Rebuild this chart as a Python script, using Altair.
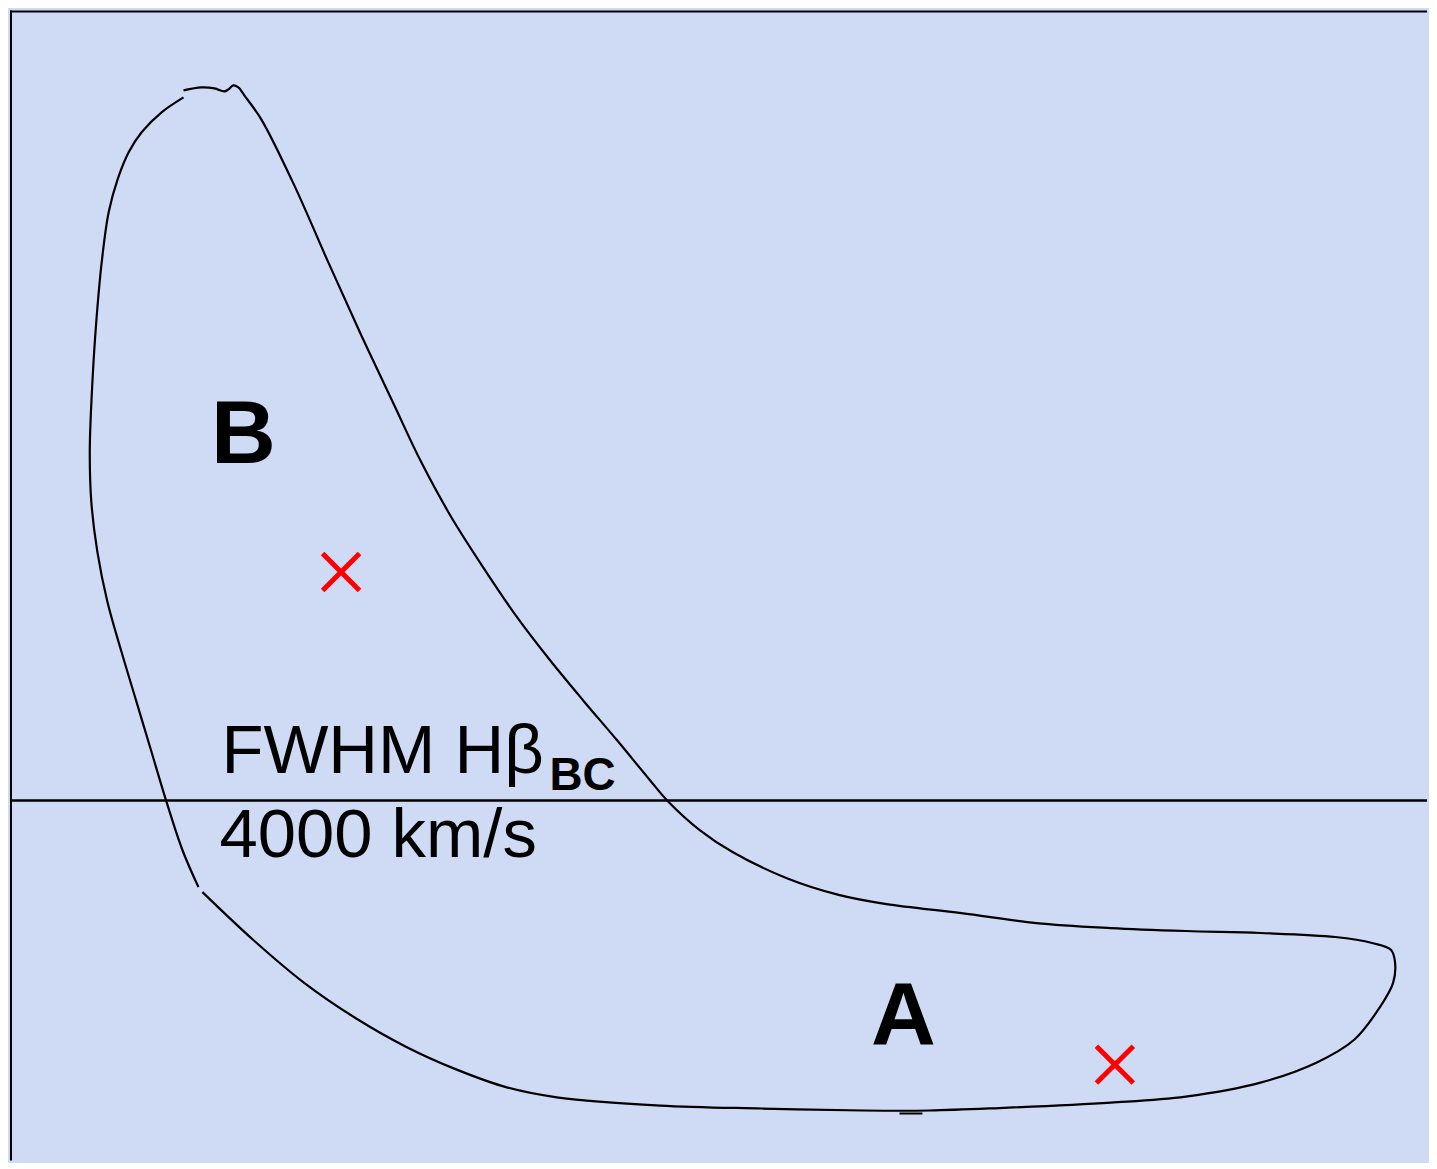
import altair as alt
import pandas as pd

# Schematic coordinates (horizontal position, vertical position; vertical grows downward)
seg_left_x = [182, 160, 140, 127, 116, 107, 100, 94, 90, 88, 89.5, 95.5, 105.5, 119.5, 134.5, 149.5, 164.5,
              181, 197]
seg_left_y = [95, 110, 130, 150, 177, 210, 260, 327, 393, 450, 500, 550, 600, 650, 700, 750, 800,
              850, 887]

seg_loop_x = [201, 252, 303, 354, 405, 456, 507, 558, 660, 762, 864, 930, 1000, 1112, 1187, 1262, 1318,
              1356, 1382, 1395, 1397, 1393, 1374, 1337, 1262, 1187, 1112, 1037, 962, 887, 840, 787, 733,
              700, 667, 650, 617, 583, 550, 517, 483, 450, 420, 393, 360, 327, 293, 260, 243, 237, 232,
              227, 223, 213, 200, 182]
seg_loop_y = [892, 940, 983, 1018, 1047, 1070, 1088, 1098, 1106, 1109, 1111, 1111, 1108.5, 1103, 1097, 1083,
              1063, 1040, 1007, 983, 963, 950, 943, 937, 933, 931, 928, 923, 913, 904, 895, 878, 852,
              830, 800, 780, 740, 700, 660, 617, 567, 515, 460, 403, 333, 260, 183, 117, 93, 85, 83,
              87, 89, 86, 85, 88]

seg_tick_x = [900, 923]
seg_tick_y = [1114, 1114]

marker_x = [340, 1116]
marker_y = [571, 1065]

label_text = ["B", "A"]
label_x = [242, 904]
label_y = [462, 1045]

threshold_y = [800]

X_DOM = [8, 1429]
Y_DOM = [8, 1161]

rows = []
for name, xs, ys in [("left", seg_left_x, seg_left_y), ("loop", seg_loop_x, seg_loop_y),
                     ("tick", seg_tick_x, seg_tick_y)]:
    for i, (a, b) in enumerate(zip(xs, ys)):
        rows.append({"seg": name, "i": i, "x": a, "y": b})
curve_df = pd.DataFrame(rows)

xs = alt.Scale(domain=X_DOM, nice=False, zero=False)
ys = alt.Scale(domain=Y_DOM, nice=False, zero=False, reverse=True)

curve = alt.Chart(curve_df).mark_line(
    color="black", strokeWidth=2.2, interpolate="catmull-rom", clip=True
).encode(
    x=alt.X("x:Q", scale=xs, axis=None),
    y=alt.Y("y:Q", scale=ys, axis=None),
    detail="seg:N",
    order="i:Q",
)

markers = alt.Chart(pd.DataFrame({"x": marker_x, "y": marker_y})).mark_point(
    shape="M-1,-1L1,1M-1,1L1,-1", filled=False, strokeWidth=5, size=1369,
    color="#ff0000", opacity=1
).encode(
    x=alt.X("x:Q", scale=xs, axis=None),
    y=alt.Y("y:Q", scale=ys, axis=None),
)

labels = alt.Chart(pd.DataFrame({"t": label_text, "x": label_x, "y": label_y})).mark_text(
    font="Liberation Sans", fontWeight="bold", fontSize=90, align="center",
    baseline="alphabetic", color="black"
).encode(
    x=alt.X("x:Q", scale=xs, axis=None),
    y=alt.Y("y:Q", scale=ys, axis=None),
    text="t:N",
)

thr = alt.Chart(pd.DataFrame({"y": threshold_y})).mark_rule(
    color="black", strokeWidth=2.5
).encode(y=alt.Y("y:Q", scale=ys, axis=None))

thr_text1 = alt.Chart(pd.DataFrame({"t": ["FWHM Hβ"], "x": [220], "y": [773]})).mark_text(
    font="Liberation Sans", fontSize=69, align="left", baseline="alphabetic", color="black"
).encode(x=alt.X("x:Q", scale=xs, axis=None), y=alt.Y("y:Q", scale=ys, axis=None), text="t:N")

thr_sub = alt.Chart(pd.DataFrame({"t": ["BC"], "x": [549], "y": [790]})).mark_text(
    font="Liberation Sans", fontWeight="bold", fontSize=46, align="left",
    baseline="alphabetic", color="black"
).encode(x=alt.X("x:Q", scale=xs, axis=None), y=alt.Y("y:Q", scale=ys, axis=None), text="t:N")

thr_text2 = alt.Chart(pd.DataFrame({"t": ["4000 km/s"], "x": [218], "y": [857]})).mark_text(
    font="Liberation Sans", fontSize=69, align="left", baseline="alphabetic", color="black"
).encode(x=alt.X("x:Q", scale=xs, axis=None), y=alt.Y("y:Q", scale=ys, axis=None), text="t:N")

top_border = alt.Chart(pd.DataFrame({"y": [9]})).mark_rule(color="black", strokeWidth=2).encode(
    y=alt.Y("y:Q", scale=ys, axis=None))
left_border = alt.Chart(pd.DataFrame({"x": [9]})).mark_rule(color="black", strokeWidth=2).encode(
    x=alt.X("x:Q", scale=xs, axis=None))

chart = alt.layer(
    top_border, left_border, thr, curve, markers, labels, thr_text1, thr_sub, thr_text2
).properties(
    width=1421, height=1153, padding=0, background="#cfdaf4"
).configure_view(
    stroke=None, fill="#cfdaf4"
)

chart.save("out.html", embed_options={"renderer": "svg", "actions": False})
